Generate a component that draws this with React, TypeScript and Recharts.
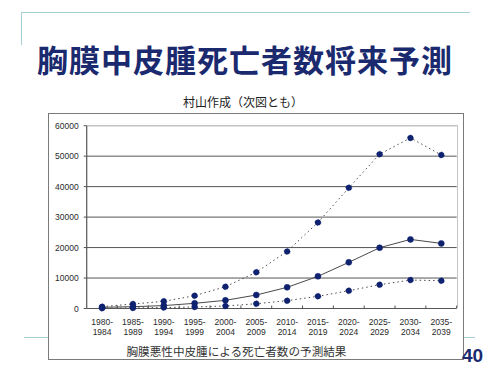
import React from 'react';
import { LineChart, Line, XAxis, YAxis, ReferenceLine } from 'recharts';

const periodStart = ['1980-', '1985-', '1990-', '1995-', '2000-', '2005-', '2010-', '2015-', '2020-', '2025-', '2030-', '2035-'];
const periodEnd = ['1984', '1989', '1994', '1999', '2004', '2009', '2014', '2019', '2024', '2029', '2034', '2039'];
const upperSeries = [600, 1480, 2350, 4200, 7150, 11900, 18750, 28250, 39600, 50650, 56000, 50400];
const middleSeries = [400, 600, 950, 1700, 2680, 4430, 6940, 10550, 15150, 19950, 22680, 21370];
const lowerSeries = [100, 200, 300, 500, 820, 1570, 2560, 4000, 5840, 7800, 9340, 9120];
const yTicks = [0, 10000, 20000, 30000, 40000, 50000, 60000];

const data = periodStart.map((s, i) => ({
  name: s + periodEnd[i],
  start: s,
  end: periodEnd[i],
  upper: upperSeries[i],
  middle: middleSeries[i],
  lower: lowerSeries[i],
}));

const PLOT_LEFT = 86.7;
const PLOT_RIGHT = 456.7;
const PLOT_TOP = 125.7;
const PLOT_BOTTOM = 308.5;
const Y_AXIS_W = 40;
const X_AXIS_H = 30;
const HALF_BAND = (PLOT_RIGHT - PLOT_LEFT) / periodStart.length / 2;

const NAVY = '#0f2270';
const LINE = '#4a4a4a';

const XTick = (props: any) => {
  const { x, y, payload, index } = props;
  const d = data[index] || data.find((r) => r.name === payload.value);
  return (
    <g>
      <line x1={x + HALF_BAND} x2={x + HALF_BAND} y1={y - 3} y2={y} stroke="#555" strokeWidth={1} />
      <text x={x} y={y} textAnchor="middle" fontSize={8.5} fill="#2a2a2a" fontFamily="Liberation Sans, Arial, sans-serif">
        <tspan x={x} dy={16.2}>{d ? d.start : ''}</tspan>
        <tspan x={x} dy={10.6}>{d ? d.end : ''}</tspan>
      </text>
    </g>
  );
};

const dotStyle = { r: 3, fill: NAVY, stroke: NAVY, strokeWidth: 0.5 };

export default function App() {
  return (
    <div style={{ position: 'absolute', left: 0, top: 0, width: 500, height: 375, background: '#fff', overflow: 'hidden', fontFamily: '"Noto Sans CJK JP", sans-serif' }}>
      {/* decorative slide lines */}
      <div style={{ position: 'absolute', left: 21, top: 12, width: 449, height: 0, borderTop: '1.5px solid #a3d0d4' }} />
      <div style={{ position: 'absolute', left: 20.5, top: 12, width: 0, height: 33, borderLeft: '1.5px solid #a3d0d4' }} />
      <div style={{ position: 'absolute', left: 24, top: 336.6, width: 451, height: 0, borderTop: '1.5px solid #a3d0d4' }} />

      {/* title */}
      <div style={{ position: 'absolute', left: 37, top: 42, whiteSpace: 'nowrap', fontSize: 31, lineHeight: '34px', fontWeight: 700, color: '#1b2a6e', letterSpacing: 1 }}>
        胸膜中皮腫死亡者数将来予測
      </div>

      {/* subtitle */}
      <div style={{ position: 'absolute', left: 143, width: 200, top: 94, textAlign: 'center', whiteSpace: 'nowrap', fontSize: 12, lineHeight: '16px', color: '#222' }}>
        村山作成（次図とも）
      </div>

      {/* chart box */}
      <div style={{ position: 'absolute', left: 48, top: 112.5, width: 414, height: 245.5, border: '1.5px solid #7a7a7a', background: '#fff' }} />

      {/* plot frame (top & right light borders) */}
      <div style={{ position: 'absolute', left: PLOT_LEFT, top: PLOT_TOP - 1, width: PLOT_RIGHT - PLOT_LEFT, height: PLOT_BOTTOM - PLOT_TOP, borderTop: '1.5px solid #c4c4c4', borderRight: '1.5px solid #c4c4c4' }} />

      {/* caption */}
      <div style={{ position: 'absolute', left: 126.5, top: 343, whiteSpace: 'nowrap', fontSize: 11.6, lineHeight: '16px', color: '#333' }}>
        胸膜悪性中皮腫による死亡者数の予測結果
      </div>

      {/* page number */}
      <div style={{ position: 'absolute', left: 462, top: 346, whiteSpace: 'nowrap', fontSize: 19, lineHeight: '20px', fontWeight: 700, color: '#1b2a6e', fontFamily: '"Liberation Sans", Arial, sans-serif' }}>
        40
      </div>

      <div style={{ position: 'absolute', left: 0, top: 0 }}>
        <LineChart
          width={500}
          height={375}
          data={data}
          margin={{ left: PLOT_LEFT - Y_AXIS_W, right: 500 - PLOT_RIGHT, top: PLOT_TOP, bottom: 375 - PLOT_BOTTOM - X_AXIS_H }}
        >
          {yTicks.slice(1).map((v) => (
            <ReferenceLine key={v} y={v} stroke={v === 60000 ? '#c4c4c4' : '#555'} strokeWidth={v === 60000 ? 1.5 : 1} ifOverflow="visible" />
          ))}
          <XAxis
            dataKey="name"
            height={X_AXIS_H}
            interval={0}
            padding={{ left: HALF_BAND, right: HALF_BAND }}
            tickLine={false}
            tickSize={0}
            tickMargin={0}
            tick={<XTick />}
            axisLine={{ stroke: '#555', strokeWidth: 1.2 }}
          />
          <YAxis
            width={Y_AXIS_W}
            domain={[0, 60000]}
            ticks={yTicks}
            interval={0}
            tickSize={3}
            tickMargin={5}
            tickLine={{ stroke: '#555' }}
            axisLine={{ stroke: '#555', strokeWidth: 1.2 }}
            tick={{ fontSize: 8.5, fill: '#2a2a2a', fontFamily: 'Liberation Sans, Arial, sans-serif' }}
          />
          <Line type="linear" dataKey="upper" name="上位推計" stroke={LINE} strokeWidth={1} strokeDasharray="1.5 3" dot={dotStyle} isAnimationActive={false} />
          <Line type="linear" dataKey="middle" name="中位推計" stroke={LINE} strokeWidth={1} dot={dotStyle} isAnimationActive={false} />
          <Line type="linear" dataKey="lower" name="下位推計" stroke={LINE} strokeWidth={1} strokeDasharray="1.5 3" dot={dotStyle} isAnimationActive={false} />
        </LineChart>
      </div>
    </div>
  );
}
